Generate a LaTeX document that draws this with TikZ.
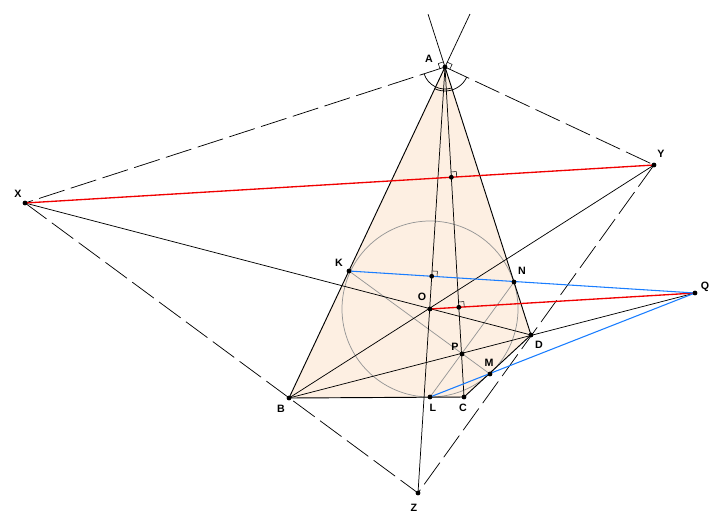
\documentclass[tikz,border=0pt]{standalone}
\usepackage{fontspec}
\setmainfont{Liberation Sans}
\usetikzlibrary{calc}
\definecolor{quadfill}{RGB}{253,239,226}
\definecolor{linered}{RGB}{240,0,0}
\definecolor{lineblue}{RGB}{25,125,255}
\definecolor{circgray}{RGB}{150,150,150}

\begin{document}
\begin{tikzpicture}[x=0.75pt, y=-0.75pt, line width=0.55pt,
    lbl/.style={font=\fontsize{8}{9}\selectfont\bfseries, inner sep=0pt},
    longdash/.style={dash pattern=on 20pt off 5pt},
    redline/.style={linered, line width=1pt},
    blueline/.style={lineblue, line width=0.8pt},
    grayline/.style={circgray, line width=0.55pt}]
    \useasboundingbox (0,0) rectangle (724,526);

    % points
    \coordinate (A) at (445,67);
    \coordinate (B) at (289,398);
    \coordinate (C) at (464,397);
    \coordinate (D) at (531,335);
    \coordinate (O) at (430,309);
    \coordinate (K) at (349,271);
    \coordinate (N) at (514,282);
    \coordinate (L) at (430,397);
    \coordinate (M) at (490,374);
    \coordinate (P) at (462,354);
    \coordinate (X) at (25,203);
    \coordinate (Y) at (654,165);
    \coordinate (Q) at (695,293);
    \coordinate (Z) at (418,493);
    \coordinate (tB) at ($(B)!1.16!(A)$);
    \coordinate (tD) at ($(D)!1.197!(A)$);
    \coordinate (F1) at (intersection of A--C and X--Y);
    \coordinate (F2) at (intersection of A--Z and K--Q);
    \coordinate (F3) at (intersection of A--C and O--Q);

    \fill[quadfill] (A) -- (B) -- (C) -- (D) -- cycle;

    % incircle and gray chords
    \draw[grayline] (O) circle (66pt);
    \draw[grayline] (K) -- (M);
    \draw[grayline] (N) -- (L);

    % black lines
    \draw[line width=0.7pt] (A) -- (B) -- (C) -- (D) -- cycle;
    \draw (A) -- (tB);
    \draw (A) -- (tD);
    \draw (A) -- (Z);
    \draw (A) -- (C);
    \draw (X) -- (D);
    \draw (Y) -- (B);
    \draw (Q) -- (B);

    % dashed lines
    \draw[longdash] (A) -- (X);
    \draw[longdash] (A) -- (Y);
    \draw[longdash] (X) -- (Z);
    \draw[longdash] (Y) -- (Z);

    % colored lines
    \draw[redline] (X) -- (Y);
    \draw[redline] (O) -- (Q);
    \draw[blueline] (K) -- (Q);
    \draw[blueline] (L) -- (Q);

    % angles at A
    \draw ($(A)!16.5pt!(X)$) arc[start angle=197.9, end angle=287.7, radius=16.5pt];
    \draw ($(A)!18pt!(B)$) arc[start angle=244.8, end angle=334.9, radius=18pt];

    % right angle marks
    \foreach \f/\u/\v in {A/X/tD, A/Y/tB, F1/A/Y, F2/A/Q, F3/A/Q}
        \draw[line width=0.4pt] ($(\f)!4pt!(\u)$) -- ($(\f)!4pt!(\u) + (\f)!4pt!(\v) - (\f)$) -- ($(\f)!4pt!(\v)$);

    % dots
    \foreach \p in {A,B,C,D,O,K,N,L,M,P,X,Y,Q,Z,F1,F2,F3}
        \fill (\p) circle (1.8pt);

    % labels
    \node[lbl] (lA) at (429,59) {A};
    \node[lbl] (lB) at (281,409) {B};
    \node[lbl] (lC) at (463,408) {C};
    \node[lbl] (lD) at (539,345) {D};
    \node[lbl] (lK) at (339,263) {K};
    \node[lbl] (lN) at (522,271) {N};
    \node[lbl] (lO) at (422,297) {O};
    \node[lbl] (lP) at (455,347) {P};
    \node[lbl] (lM) at (489,363) {M};
    \node[lbl] (lL) at (433,408) {L};
    \node[lbl] (lQ) at (705,287) {Q};
    \node[lbl] (lX) at (18,194) {X};
    \node[lbl] (lY) at (661,154) {Y};
    \node[lbl] (lZ) at (414,508) {Z};
\end{tikzpicture}
\end{document}
